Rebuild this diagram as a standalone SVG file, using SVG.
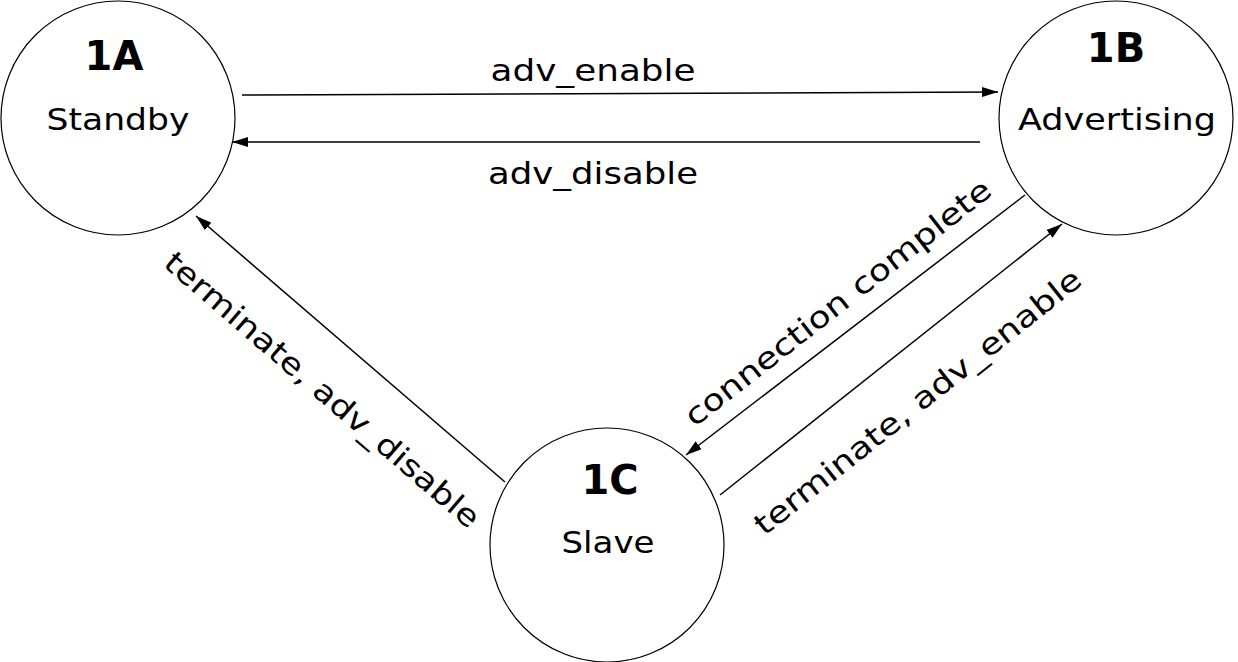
<svg xmlns="http://www.w3.org/2000/svg" width="1238" height="662" viewBox="0 0 1238 662">
<style>
circle{fill:#fff;stroke:#000;stroke-width:1.2}
.t{font-family:"DejaVu Sans",sans-serif;font-weight:bold;font-size:40px;text-anchor:middle}
.n{font-family:"DejaVu Sans",sans-serif;font-size:30px;text-anchor:middle}
.l{font-family:"DejaVu Sans",sans-serif;font-size:30px;text-anchor:middle}
line{stroke:#000;stroke-width:1.5;marker-end:url(#b)}
</style>
<defs><marker id="b" viewBox="0 0 16 10" refX="16" refY="5" markerWidth="16" markerHeight="10" markerUnits="userSpaceOnUse" orient="auto"><path d="M0,0 L16,5 L0,10z"/></marker></defs>
<g id="n1A"><circle cx="118" cy="118" r="117"/><text class="t" x="114" y="70">1A</text><text class="n" x="118" y="130" textLength="143" lengthAdjust="spacingAndGlyphs">Standby</text></g>
<g id="n1B"><circle cx="1116" cy="118" r="117"/><text class="t" x="1116" y="62">1B</text><text class="n" x="1117" y="130" textLength="198" lengthAdjust="spacingAndGlyphs">Advertising</text></g>
<g id="n1C"><circle cx="607" cy="545" r="117"/><text class="t" x="610" y="494">1C</text><text class="n" x="608" y="553" textLength="93" lengthAdjust="spacingAndGlyphs">Slave</text></g>
<g id="edges">
<line x1="242" y1="95" x2="998" y2="92"/>
<line x1="980" y1="142" x2="232" y2="142"/>
<line x1="505" y1="482" x2="196" y2="216"/>
<line x1="1025" y1="195" x2="686" y2="455"/>
<line x1="720" y1="495" x2="1062" y2="224"/>
<text class="l" x="593" y="81" textLength="205" lengthAdjust="spacingAndGlyphs">adv_enable</text>
<text class="l" x="593" y="184" textLength="210" lengthAdjust="spacingAndGlyphs">adv_disable</text>
<text class="l" transform="translate(322,390) rotate(40.7)" y="10" textLength="405" lengthAdjust="spacingAndGlyphs">terminate, adv_disable</text>
<text class="l" transform="translate(838,303) rotate(-38)" y="10" textLength="380" lengthAdjust="spacingAndGlyphs">connection complete</text>
<text class="l" transform="translate(918,402) rotate(-38.4)" y="10" textLength="408" lengthAdjust="spacingAndGlyphs">terminate, adv_enable</text>
</g>
</svg>
